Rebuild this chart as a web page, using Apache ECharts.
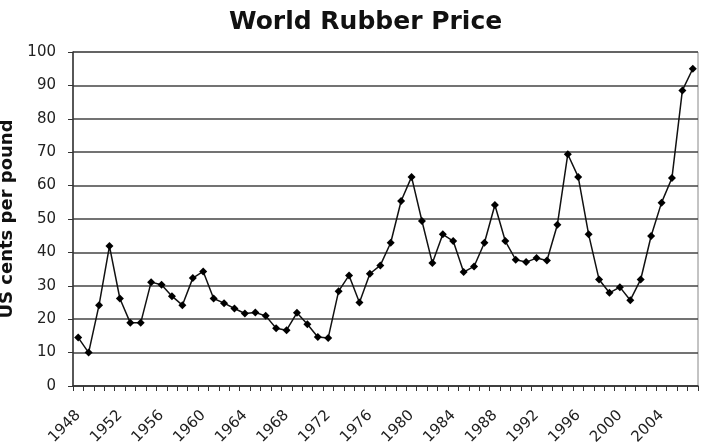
<!DOCTYPE html>
<html>
<head>
<meta charset="utf-8">
<script src="https://cdn.jsdelivr.net/npm/echarts@6/dist/echarts.min.js"></script>
<style>
html,body{margin:0;padding:0;background:#fff;}
#chart{width:705px;height:444px;}
</style>
</head>
<body>
<div id="chart"></div>
<script>
const years = [];
for (let y = 1948; y <= 2007; y++) years.push(String(y));

const prices = [
  14.5, 10.0, 24.2, 41.9, 26.2, 18.9, 18.9, 31.1, 30.3, 26.9,
  24.2, 32.3, 34.3, 26.2, 24.8, 23.2, 21.7, 22.0, 21.0, 17.3,
  16.7, 21.9, 18.5, 14.7, 14.4, 28.4, 33.1, 25.0, 33.6, 36.1,
  42.9, 55.4, 62.6, 49.4, 36.8, 45.4, 43.4, 34.1, 35.8, 42.9,
  54.2, 43.4, 37.8, 37.1, 38.3, 37.6, 48.3, 69.4, 62.6, 45.4,
  31.9, 27.9, 29.6, 25.7, 31.9, 44.9, 54.9, 62.3, 88.5, 95.0
];

const yTicks = { min: 0, max: 100, interval: 10 };
const titleText = 'World Rubber Price';
const yAxisName = 'US cents per pound';

const chart = echarts.init(document.getElementById('chart'), null, { renderer: 'canvas' });
chart.setOption({
  animation: false,
  backgroundColor: '#fff',
  title: {
    text: titleText,
    left: 224,
    top: 5,
    textStyle: { fontFamily: 'DejaVu Sans', fontWeight: 'bold', fontSize: 25, color: '#111' }
  },
  grid: {
    left: 73, right: 7, top: 52, bottom: 58,
    containLabel: false,
    outerBoundsMode: 'none',
    show: true, borderColor: '#888', borderWidth: 1, backgroundColor: 'transparent'
  },
  xAxis: {
    type: 'category',
    data: years,
    boundaryGap: true,
    axisLine: { lineStyle: { color: '#333', width: 1.5 } },
    axisTick: { show: true, interval: 0, length: 5, lineStyle: { color: '#333', width: 1 } },
    axisLabel: {
      interval: 3, rotate: 45, margin: 27,
      fontFamily: 'DejaVu Sans', fontSize: 15, color: '#222'
    },
    splitLine: { show: false }
  },
  yAxis: {
    type: 'value',
    min: yTicks.min, max: yTicks.max, interval: yTicks.interval,
    name: yAxisName,
    nameLocation: 'middle',
    nameGap: 55,
    nameTextStyle: { fontFamily: 'DejaVu Sans', fontWeight: 'bold', fontSize: 18, color: '#111' },
    axisLine: { show: true, lineStyle: { color: '#333', width: 1.5 } },
    axisTick: { show: true, length: 5, lineStyle: { color: '#333', width: 1 } },
    axisLabel: { margin: 17, fontFamily: 'DejaVu Sans', fontSize: 15, color: '#222' },
    splitLine: { show: true, lineStyle: { color: '#444', width: 1.5 } }
  },
  series: [{
    type: 'line',
    data: prices,
    symbol: 'diamond',
    symbolSize: 8,
    showAllSymbol: true,
    itemStyle: { color: '#000' },
    lineStyle: { color: '#111', width: 1.5 }
  }]
});
</script>
</body>
</html>
